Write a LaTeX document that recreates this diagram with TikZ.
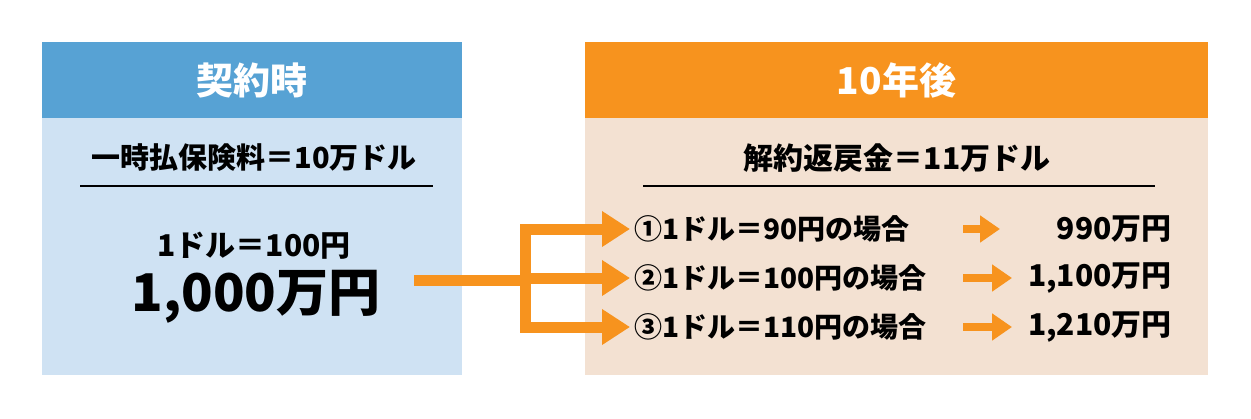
\documentclass[tikz,border=0pt]{standalone}
\usepackage{fontspec}
\setmainfont{Noto Sans CJK JP}
\usetikzlibrary{arrows.meta,positioning}
\definecolor{headblue}{HTML}{57A2D4}
\definecolor{bodyblue}{HTML}{CFE2F3}
\definecolor{headorange}{HTML}{F7931E}
\definecolor{bodypeach}{HTML}{F3E1D2}
\tikzset{
    %Define style for box headers
    head/.style={
           rectangle,
           minimum height=38pt,
           text=white,
           font=\bfseries\fontsize{18.5}{20}\selectfont},
    %Define style for box bodies
    panel/.style={
           rectangle,
           minimum height=128.5pt},
    % Define text styles
    label/.style={
           inner sep=1pt,
           font=\bfseries\fontsize{14.5}{16}\selectfont},
    row/.style={
           inner sep=2pt,
           font=\bfseries\fontsize{14}{16}\selectfont},
    % Define arrow styles
    bigarrow/.style={
           draw=headorange,
           line width=5.5pt,
           -{Triangle[length=14pt,width=17pt]}},
    smallarrow/.style={
           draw=headorange,
           line width=4pt,
           -{Triangle[length=10pt,width=13pt]}}
}
\begin{document}
\begin{tikzpicture}[x=0.5pt,y=-0.5pt]
    \useasboundingbox (0,0) rectangle (1251,418);

    % left box
    \node [panel, fill=bodyblue, minimum width=210pt] (bodyL) at (252,246.5) {};
    \node [head, fill=headblue, minimum width=210pt] (headL) at (252,80) {契約時};
    \node [label] (premium) at (254,158) {一時払保険料＝10万ドル};
    \node [label, font=\bfseries\fontsize{15}{16}\selectfont] (rate) at (254,246) {1ドル＝100円};
    \node [label, font=\bfseries\fontsize{26}{28}\selectfont] (yen) at (256,297) {1,000万円};
    \draw [line width=0.9pt] (80,186) -- (433,186);

    % right box
    \node [panel, fill=bodypeach, minimum width=311.5pt] (bodyR) at (896.5,246.5) {};
    \node [head, fill=headorange, minimum width=311.5pt] (headR) at (896.5,80) {10年後};
    \node [label, font=\bfseries\fontsize{15}{16}\selectfont] (refund) at (897,158) {解約返戻金＝11万ドル};
    \draw [line width=0.9pt] (643,186) -- (1155,186);

    % cases
    \node [row, anchor=west] (r1) at (630,229) {①1ドル＝90円の場合};
    \node [row, anchor=west] (r2) at (630,278) {②1ドル＝100円の場合};
    \node [row, anchor=west] (r3) at (630,327) {③1ドル＝110円の場合};
    \node [row, anchor=east, font=\bfseries\fontsize{15}{16}\selectfont] (v1) at (1176,229) {990万円};
    \node [row, anchor=east, font=\bfseries\fontsize{15}{16}\selectfont] (v2) at (1176,278) {1,100万円};
    \node [row, anchor=east, font=\bfseries\fontsize{15}{16}\selectfont] (v3) at (1176,327) {1,210万円};

    \coordinate (src) at (414,280);
    \coordinate (fork) at (525,280);
    \coordinate (a1) at (963,229);
    \coordinate (a2) at (963,278);
    \coordinate (a3) at (963,327);
    \coordinate (b1) at (1000,229);
    \coordinate (b2) at (1012,278);
    \coordinate (b3) at (1012,327);

	\draw [bigarrow] (src) -- (fork) -- (fork |- r2.west) -- (r2.west);
	\draw [bigarrow] (fork) |- (r1.west);
	\draw [bigarrow] (fork) |- (r3.west);
	\draw [smallarrow] (a1) -- (b1);
	\draw [smallarrow] (a2) -- (b2);
	\draw [smallarrow] (a3) -- (b3);
\end{tikzpicture}
\end{document}
